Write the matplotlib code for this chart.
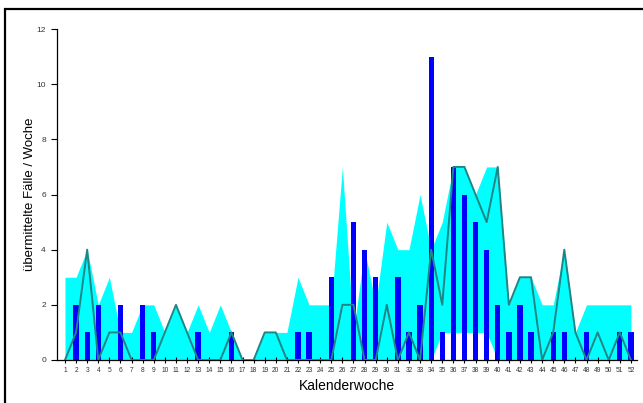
import numpy as np
import matplotlib
matplotlib.use("Agg")
import matplotlib.pyplot as plt
from matplotlib.patches import Rectangle

plt.rcParams['font.family'] = ['Liberation Sans', 'DejaVu Sans']

weeks = list(range(1, 53))

# range of previous years (cyan band)
range_min = [0] * 34 + [1, 1, 1, 1, 1] + [0] * 13
range_max = [3, 3, 4, 2, 3, 1, 1, 2, 2, 1, 2, 1, 2, 1, 2, 1, 0, 0, 1, 1,
             1, 3, 2, 2, 2, 7, 1, 4, 2, 5, 4, 4, 6, 4, 5, 7, 7, 6, 7, 7,
             2, 3, 3, 2, 2, 4, 1, 2, 2, 2, 2, 2]

# current year cases
cases = [0, 2, 1, 2, 0, 2, 0, 2, 1, 0, 0, 0, 1, 0, 0, 1, 0, 0, 0, 0,
         0, 1, 1, 0, 3, 0, 5, 4, 3, 0, 3, 1, 2, 11, 1, 7, 6, 5, 4, 2,
         1, 2, 1, 0, 1, 1, 0, 1, 0, 0, 1, 1]

# previous year line
prev_year = [0, 1, 4, 0, 1, 1, 0, 0, 0, 1, 2, 1, 0, 0, 0, 1, 0, 0, 1, 1,
             0, 0, 0, 0, 0, 2, 2, 0, 0, 2, 0, 1, 0, 4, 2, 7, 7, 6, 5, 7,
             2, 3, 3, 0, 1, 4, 1, 0, 1, 0, 1, 0]

fig = plt.figure(figsize=(6.43, 4.03), dpi=100)
ax = fig.add_axes([57 / 643, 1 - 360 / 403, 580 / 643, 331 / 403])

ax.fill_between(weeks, range_min, range_max, color='#00FFFF', lw=0, zorder=1)
ax.bar(weeks, cases, width=0.48, color='#0000FF', zorder=2)
ax.plot(weeks, prev_year, color='#1F8585', lw=1.4, zorder=3)

ax.set_xlim(0.28, 52.55)
ax.set_ylim(0, 12)
ax.set_xticks(weeks)
ax.set_xticklabels([str(w) for w in weeks], fontsize=4.8, color='#333333')
ax.set_yticks(range(0, 13, 2))
ax.set_yticklabels([str(v) for v in range(0, 13, 2)], fontsize=6, color='#333333')
ax.tick_params(axis='x', direction='inout', length=4, width=0.8, pad=3)
ax.tick_params(axis='y', direction='out', length=4, width=0.8, pad=4)

for side in ['top', 'right']:
    ax.spines[side].set_visible(False)
for side in ['left', 'bottom']:
    ax.spines[side].set_linewidth(0.9)

ax.set_xlabel('Kalenderwoche', fontsize=10, labelpad=4)
ax.set_ylabel('übermittelte Fälle / Woche', fontsize=9.5)
ax.yaxis.set_label_coords(-21 / 580, 0.5)

# outer frame
fig.add_artist(Rectangle((5 / 643, -0.2), 1.2, 1.2 - 9 / 403,
                         transform=fig.transFigure, fill=False,
                         lw=1.6, edgecolor='black'))

fig.savefig('out.png', dpi=100)
